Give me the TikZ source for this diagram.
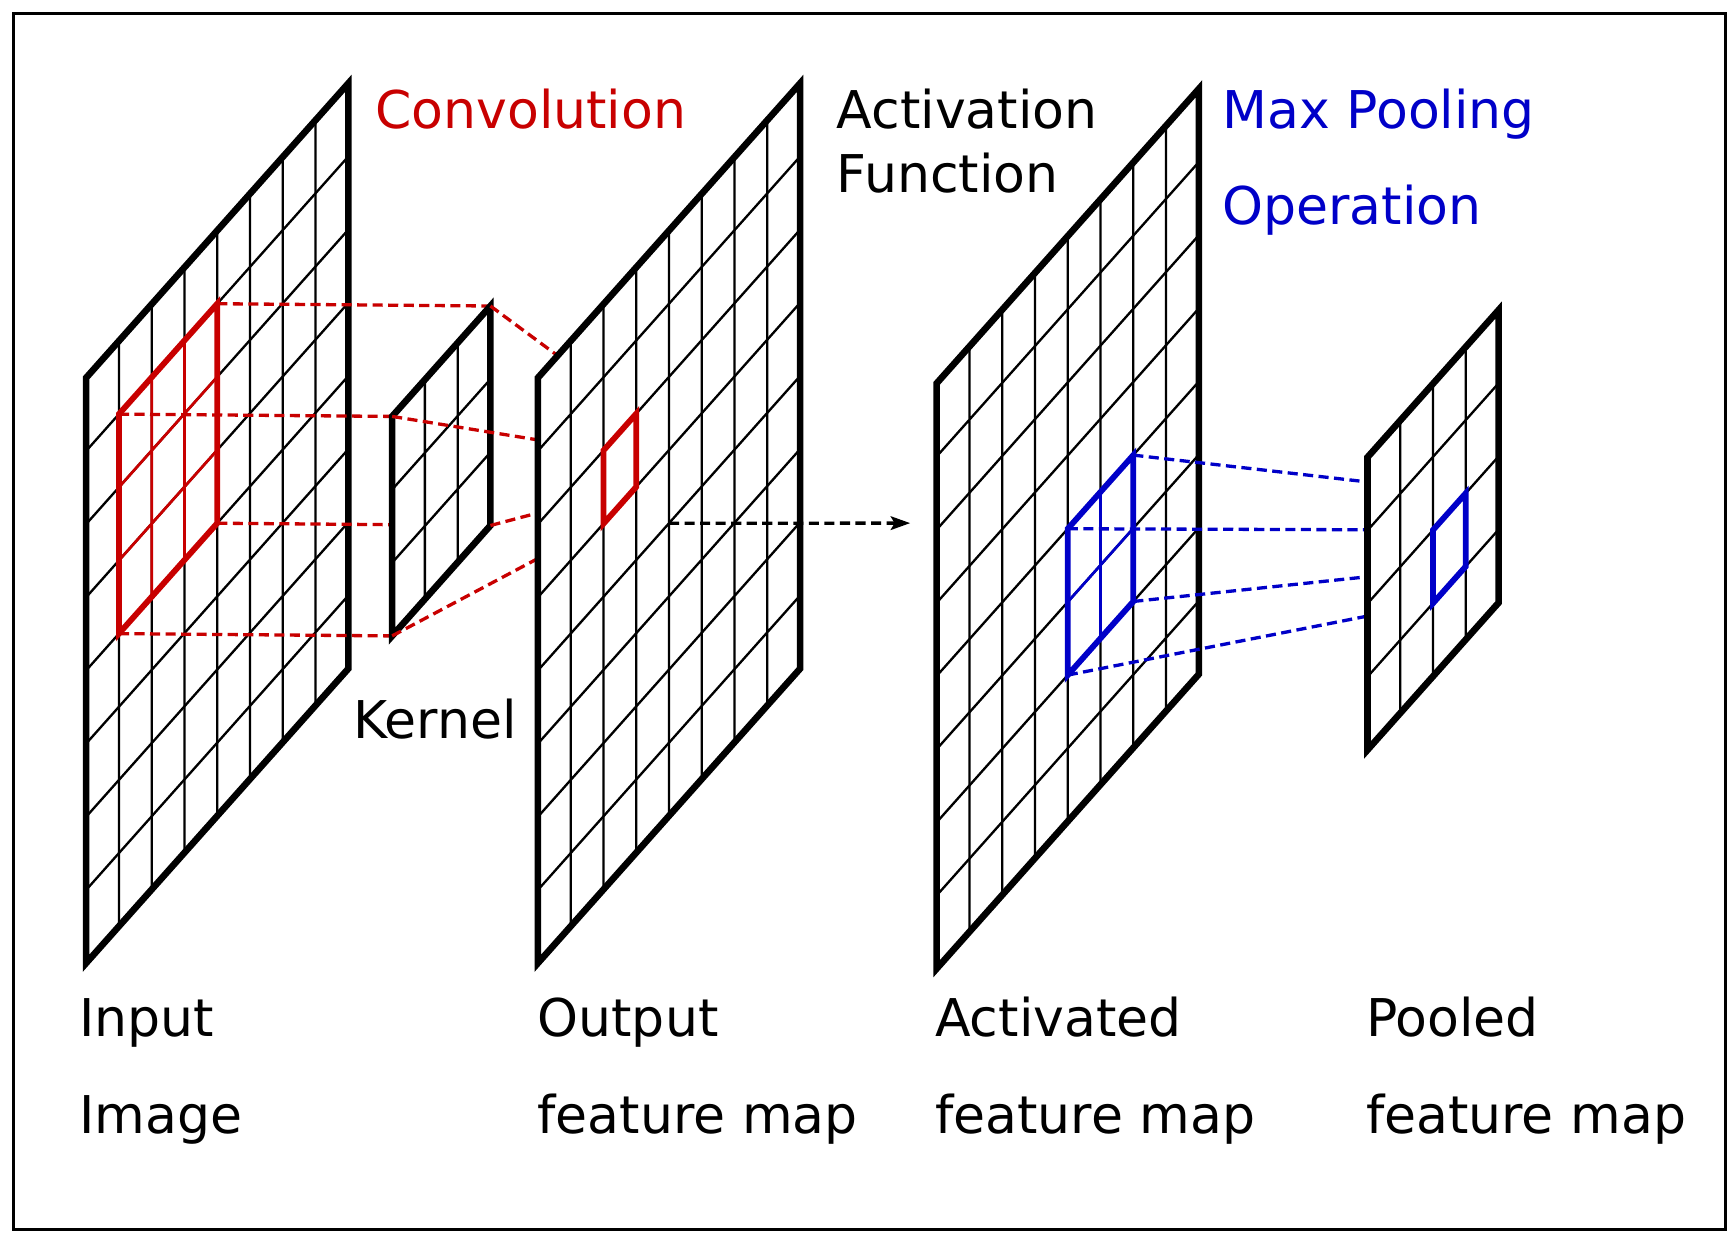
\documentclass[tikz,border=0pt]{standalone}
\usepackage{fontspec}
\setmainfont{DejaVu Sans}
\usetikzlibrary{arrows.meta}
\definecolor{convred}{RGB}{200,0,0}
\definecolor{poolblue}{RGB}{0,0,200}
\tikzset{
  fmap/.style={x={(0.2965cm,0.333cm)},y={(0cm,-0.662cm)}},
  mapborder/.style={line width=1.7pt,fill=white},
  cellline/.style={line width=0.6pt},
  winline/.style={line width=0.7pt},
  winframe/.style={line width=1.5pt},
  dashlink/.style={line width=0.85pt,dash pattern=on 2.6pt off 1.4pt},
  maptext/.style={anchor=base west,inner sep=0pt,font=\fontsize{13.4}{16}\selectfont}
}
\newcommand{\featmap}[3]{%
  \begin{scope}[shift={(#1,#2)},fmap]
    \draw[mapborder] (0,0) -- (#3,0) -- (#3,#3) -- (0,#3) -- cycle;
    \pgfmathtruncatemacro{\fmlast}{#3-1}
    \foreach \i in {1,...,\fmlast}
      \draw[cellline] (\i,0) -- (\i,#3) (0,\i) -- (#3,\i);
  \end{scope}}
\begin{document}
\begin{tikzpicture}[x=0.01cm,y=-0.01cm]
  \useasboundingbox (0,0) rectangle (1568,1125);
  \draw[line width=0.7pt] (12,12) rectangle (1562,1113);

  % input image and kernel window
  \featmap{78}{342}{8}
  \begin{scope}[shift={(78,342)},fmap]
    \draw[convred,winline] (2,1) -- (2,4) (3,1) -- (3,4) (1,2) -- (4,2) (1,3) -- (4,3);
    \draw[convred,winframe] (1,1) coordinate (in-tl) -- (4,1) coordinate (in-tr)
      -- (4,4) coordinate (in-br) -- (1,4) coordinate (in-bl) -- cycle;
  \end{scope}

  % corners of kernel and output cell
  \begin{scope}[shift={(355,377)},fmap]
    \coordinate (ker-tl) at (0,0); \coordinate (ker-tr) at (3,0);
    \coordinate (ker-br) at (3,3); \coordinate (ker-bl) at (0,3);
  \end{scope}
  \begin{scope}[shift={(487,342)},fmap]
    \coordinate (out-tl) at (2,2); \coordinate (out-tr) at (3,2);
    \coordinate (out-br) at (3,3); \coordinate (out-bl) at (2,3);
    \coordinate (out-c) at (4,4);
  \end{scope}
  \coordinate (arrowtip) at (824,473.6);

  \foreach \c in {tl,tr,br,bl}
    \draw[convred,dashlink] (in-\c) -- (ker-\c);
  \featmap{355}{377}{3}
  \foreach \c in {tl,tr,br,bl}
    \draw[convred,dashlink] (ker-\c) -- (out-\c);
  \featmap{487}{342}{8}
  \draw[convred,winframe] (out-tl) -- (out-tr) -- (out-br) -- (out-bl) -- cycle;
  \draw[dashlink,-{Stealth[length=5pt,width=3.5pt,inset=1pt]}] (out-c) -- (arrowtip);

  % activated map and pooling window
  \featmap{848}{347}{8}
  \begin{scope}[shift={(848,347)},fmap]
    \draw[poolblue,winline] (5,4) -- (5,6) (4,5) -- (6,5);
    \draw[poolblue,winframe] (4,4) coordinate (act-tl) -- (6,4) coordinate (act-tr)
      -- (6,6) coordinate (act-br) -- (4,6) coordinate (act-bl) -- cycle;
  \end{scope}
  \begin{scope}[shift={(1238,414)},fmap]
    \coordinate (pool-tl) at (2,2); \coordinate (pool-tr) at (3,2);
    \coordinate (pool-br) at (3,3); \coordinate (pool-bl) at (2,3);
  \end{scope}
  \foreach \c in {tl,tr,br,bl}
    \draw[poolblue,dashlink] (act-\c) -- (pool-\c);
  \featmap{1238}{414}{4}
  \draw[poolblue,winframe] (pool-tl) -- (pool-tr) -- (pool-br) -- (pool-bl) -- cycle;

  % labels
  \node[maptext,text=convred] (conv) at (339,116) {Convolution};
  \node[maptext] (act1) at (757,116) {Activation};
  \node[maptext] (act2) at (757,174) {Function};
  \node[maptext,text=poolblue] (pool1) at (1106,116) {Max Pooling};
  \node[maptext,text=poolblue] (pool2) at (1106,203) {Operation};
  \node[maptext] (kern) at (319,669) {Kernel};
  \node[maptext] (inp1) at (71,938) {Input};
  \node[maptext] (inp2) at (71,1026) {Image};
  \node[maptext] (outp1) at (486,938) {Output};
  \node[maptext] (outp2) at (486,1026) {feature map};
  \node[maptext] (actd1) at (846,938) {Activated};
  \node[maptext] (actd2) at (846,1026) {feature map};
  \node[maptext] (pld1) at (1236,938) {Pooled};
  \node[maptext] (pld2) at (1236,1026) {feature map};
\end{tikzpicture}
\end{document}
